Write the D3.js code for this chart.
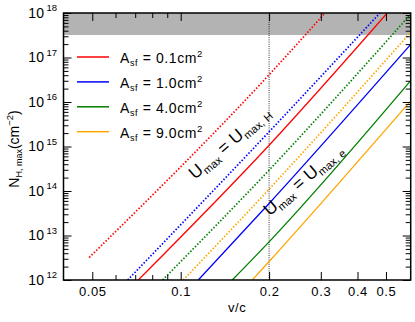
<!DOCTYPE html>
<html>
<head>
<meta charset="utf-8">
<script src="https://cdn.jsdelivr.net/npm/d3@7"></script>
<style>
  body { margin: 0; background: #fff; }
  svg { display: block; font-family: "Liberation Sans", Arial, sans-serif; }
</style>
</head>
<body>
<svg id="chart" width="415" height="322"></svg>
<script>
// surface area labels, one per colour
var areas = ['0.1', '1.0', '4.0', '9.0'];

// U_max = U_max,H  (dotted) : v/c and N_H,max
var hV = [[0.0488, 0.2, 0.310], [0.066, 0.2, 0.477], [0.0868, 0.2, 0.604], [0.102, 0.2, 0.604]];
var hN = [[3.2e12, 4.1e16, 1e18], [1e12, 2.14e15, 1e18], [1e12, 2.95e14, 9.1e17], [1e12, 1.1e14, 3.55e17]];

// U_max = U_max,e  (solid)
var eV = [[0.0717, 0.2, 0.505], [0.1148, 0.2, 0.604], [0.1498, 0.2, 0.604], [0.1753, 0.2, 0.604]];
var eN = [[1e12, 1.07e15, 1e18], [1e12, 5.25e13, 1.9e17], [1e12, 7.2e12, 2.9e16], [1e12, 2.6e12, 1.02e16]];

// axis ticks
var xMajor = [0.05, 0.1, 0.2, 0.3, 0.4, 0.5];
var xMinor = [0.06, 0.07, 0.08, 0.09];
var yMajor = [1e12, 1e13, 1e14, 1e15, 1e16, 1e17, 1e18];
var bandLow = 3.2e17; // grey excluded region

var colors = ['#ff0000', '#0000ff', '#008000', '#ffa500'];

// plot box (window.top is reserved, so pTop etc.)
var pLeft = 63.5, pRight = 410.7, pTop = 13, pBottom = 280;

var svg = d3.select('#chart');

var x = d3.scaleLog().domain([0.0399, 0.607]).range([pLeft, pRight]);
var y = d3.scaleLog().domain([1e12, 1e18]).range([pBottom, pTop]);

// minor y ticks 2..9 per decade
var yMinor = [];
yMajor.slice(0, -1).forEach(function (d) {
  for (var k = 2; k <= 9; k++) yMinor.push(d * k);
});

svg.append('clipPath').attr('id', 'clip').append('rect')
  .attr('x', pLeft).attr('y', pTop).attr('width', pRight - pLeft).attr('height', pBottom - pTop);

// grey band at the top
svg.append('rect')
  .attr('x', pLeft).attr('y', y(1e18))
  .attr('width', pRight - pLeft).attr('height', y(bandLow) - y(1e18))
  .attr('fill', '#b3b3b3');

// vertical dotted guide at v/c = 0.2
svg.append('line')
  .attr('x1', x(0.2)).attr('x2', x(0.2)).attr('y1', pTop).attr('y2', pBottom)
  .attr('stroke', '#000').attr('stroke-width', 0.8).attr('stroke-dasharray', '1,1.2');

var line = d3.line()
  .x(function (d) { return x(d[0]); })
  .y(function (d) { return y(d[1]); })
  .curve(d3.curveMonotoneX);

var plot = svg.append('g').attr('clip-path', 'url(#clip)');

areas.forEach(function (a, i) {
  var hPts = hV[i].map(function (v, j) { return [v, hN[i][j]]; });
  var ePts = eV[i].map(function (v, j) { return [v, eN[i][j]]; });
  plot.append('path').datum(hPts).attr('d', line)
    .attr('fill', 'none').attr('stroke', colors[i]).attr('stroke-width', 1.7)
    .attr('stroke-dasharray', '1.5,1.8');
  plot.append('path').datum(ePts).attr('d', line)
    .attr('fill', 'none').attr('stroke', colors[i]).attr('stroke-width', 1.3);
});

// axes: inward ticks on all four sides
function styleAxis(g) {
  g.select('.domain').remove();
  g.selectAll('line').attr('stroke', '#000').attr('stroke-width', 1);
}

svg.append('g').attr('transform', 'translate(0,' + pBottom + ')')
  .call(d3.axisBottom(x).tickValues(xMajor).tickSizeInner(-8).tickSizeOuter(0).tickPadding(7)
    .tickFormat(function (d) { return String(d); }))
  .call(styleAxis)
  .selectAll('text').attr('font-size', 13).attr('fill', '#000')
  .attr('font-family', '"Liberation Sans", Arial, sans-serif').style('letter-spacing', '0.6px');

svg.append('g').attr('transform', 'translate(0,' + pBottom + ')')
  .call(d3.axisBottom(x).tickValues(xMinor).tickSizeInner(-5).tickSizeOuter(0).tickFormat(''))
  .call(styleAxis);

svg.append('g').attr('transform', 'translate(0,' + pTop + ')')
  .call(d3.axisTop(x).tickValues(xMajor).tickSizeInner(-8).tickSizeOuter(0).tickFormat(''))
  .call(styleAxis);

svg.append('g').attr('transform', 'translate(0,' + pTop + ')')
  .call(d3.axisTop(x).tickValues(xMinor).tickSizeInner(-5).tickSizeOuter(0).tickFormat(''))
  .call(styleAxis);

var yAxisG = svg.append('g').attr('transform', 'translate(' + pLeft + ',0)')
  .call(d3.axisLeft(y).tickValues(yMajor).tickSizeInner(-8).tickSizeOuter(0).tickPadding(6.5))
  .call(styleAxis);

// power-of-ten labels
yAxisG.selectAll('text').each(function (d) {
  var t = d3.select(this).text('').attr('font-size', 14).attr('fill', '#000')
    .attr('font-family', '"Liberation Sans", Arial, sans-serif');
  t.append('tspan').text('10');
  t.append('tspan').attr('font-size', 9.5).attr('dx', 2.5).attr('dy', -6.5)
    .text(Math.round(Math.log10(d)));
});

svg.append('g').attr('transform', 'translate(' + pLeft + ',0)')
  .call(d3.axisLeft(y).tickValues(yMinor).tickSizeInner(-5).tickSizeOuter(0).tickFormat(''))
  .call(styleAxis);

svg.append('g').attr('transform', 'translate(' + pRight + ',0)')
  .call(d3.axisRight(y).tickValues(yMajor).tickSizeInner(-8).tickSizeOuter(0).tickFormat(''))
  .call(styleAxis);

svg.append('g').attr('transform', 'translate(' + pRight + ',0)')
  .call(d3.axisRight(y).tickValues(yMinor).tickSizeInner(-5).tickSizeOuter(0).tickFormat(''))
  .call(styleAxis);

// frame
svg.append('rect')
  .attr('x', pLeft).attr('y', pTop).attr('width', pRight - pLeft).attr('height', pBottom - pTop)
  .attr('fill', 'none').attr('stroke', '#000').attr('stroke-width', 1.5);

// axis titles
svg.append('text')
  .attr('x', (pLeft + pRight) / 2).attr('y', 312)
  .attr('text-anchor', 'middle').attr('font-size', 13).style('letter-spacing', '0.5px')
  .text('v/c');

var yl = svg.append('text')
  .attr('transform', 'translate(18.5,149) rotate(-90)')
  .attr('text-anchor', 'middle').attr('font-size', 14);
yl.append('tspan').text('N');
yl.append('tspan').attr('font-size', 9).attr('dy', 3).text('H, max');
yl.append('tspan').attr('dy', -3).text('(cm');
yl.append('tspan').attr('font-size', 9.5).attr('dy', -6).text('\u22122');
yl.append('tspan').attr('dy', 6).text(')');

// legend
var legend = svg.append('g');
areas.forEach(function (a, i) {
  var ly = 57 + i * 24.9;
  legend.append('line')
    .attr('x1', 77).attr('x2', 109).attr('y1', ly).attr('y2', ly)
    .attr('stroke', colors[i]).attr('stroke-width', 1.5);
  var t = legend.append('text').attr('x', 120).attr('y', ly + 6)
    .attr('font-size', 14).style('letter-spacing', '0.6px');
  t.append('tspan').text('A');
  t.append('tspan').attr('font-size', 9).attr('dy', 3).text('sf');
  t.append('tspan').attr('dy', -3).text(' = ' + a + 'cm');
  t.append('tspan').attr('font-size', 9.5).attr('dy', -6).text('2');
});

// line annotations
function annotate(cx, cy, sub) {
  var t = svg.append('text')
    .attr('transform', 'translate(' + cx + ',' + cy + ') rotate(-41)')
    .attr('text-anchor', 'middle').attr('font-size', 17.5);
  t.append('tspan').text('U');
  t.append('tspan').attr('font-size', 11).attr('dy', 4).text('max');
  t.append('tspan').attr('dy', -4).text(' = U');
  t.append('tspan').attr('font-size', 11).attr('dy', 4).text('max, ' + sub);
}
annotate(233, 147, 'H');
annotate(307, 184, 'e');
</script>
</body>
</html>
